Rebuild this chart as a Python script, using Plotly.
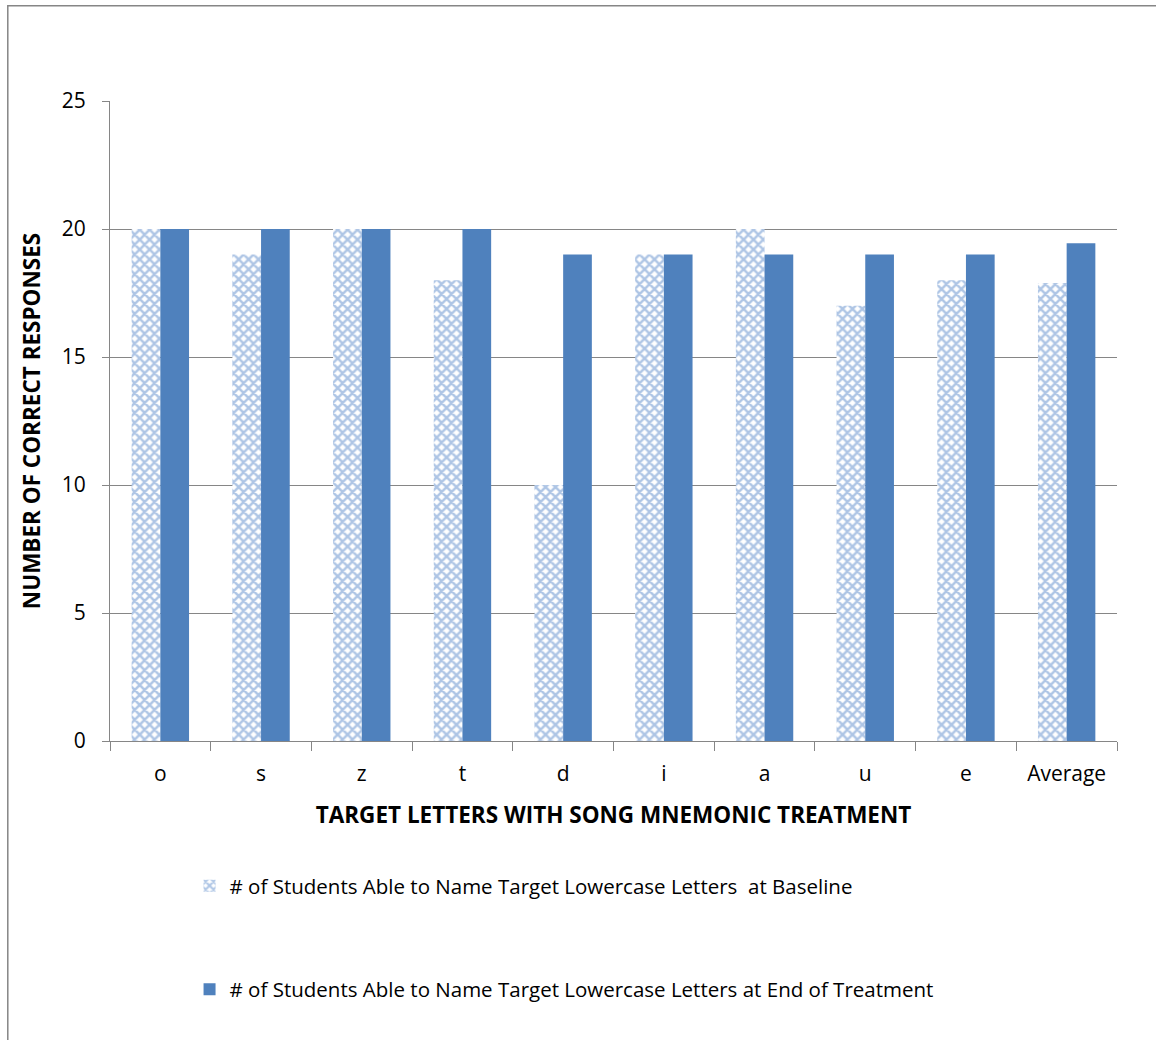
import plotly.graph_objects as go

letters = ["o", "s", "z", "t", "d", "i", "a", "u", "e", "Average"]
baseline = [20, 19, 20, 18, 10, 19, 20, 17, 18, 17.89]
end_of_treatment = [20, 20, 20, 20, 19, 19, 19, 19, 19, 19.44]

name_base = "# of Students Able to Name Target Lowercase Letters  at Baseline"
name_end = "# of Students Able to Name Target Lowercase Letters at End of Treatment"

FONT = "Open Sans"
BLUE = "#4F81BD"
GRID = "#868686"

fig = go.Figure()
fig.add_trace(go.Bar(
    x=letters, y=baseline, name=name_base, legendgroup="a",
    marker=dict(
        color="white",
        line=dict(width=0),
        pattern=dict(shape="x", fgcolor="#5E8CCB", bgcolor="white", size=7, solidity=0.6),
    ),
))
fig.add_trace(go.Bar(
    x=letters, y=end_of_treatment, name=name_end, legendgroup="b",
    marker=dict(color=BLUE, line=dict(width=0)),
))

fig.update_layout(
    width=1156, height=1040,
    margin=dict(l=110, r=39, t=101, b=299),
    paper_bgcolor="white", plot_bgcolor="white",
    barmode="group", bargap=0.43, bargroupgap=0,
    font=dict(family=FONT, color="black", size=20),
    showlegend=True,
    legend=dict(
        orientation="v", x=0.079, xanchor="left", y=-0.195, yanchor="top",
        traceorder="grouped", tracegroupgap=74,
        font=dict(size=20.5, family=FONT), itemwidth=30,
    ),
    shapes=[dict(
        type="rect", xref="paper", yref="paper",
        x0=-0.1015, x1=1.05, y0=-0.6, y1=1.149,
        line=dict(color=GRID, width=1.5), fillcolor="rgba(0,0,0,0)", layer="below",
    )],
)

fig.update_xaxes(
    type="category", tickson="boundaries", ticks="outside", ticklen=9,
    tickcolor=GRID, tickwidth=1.3,
    showline=True, linecolor=GRID, linewidth=1.3,
    tickfont=dict(size=21, family=FONT), ticklabelstandoff=14,
    title=dict(text="<b>TARGET LETTERS WITH SONG MNEMONIC TREATMENT</b>",
               font=dict(size=22.5, family=FONT), standoff=20),
)
fig.update_yaxes(
    range=[0, 25], tickvals=[0, 5, 10, 15, 20, 25], ticks="outside", ticklen=7,
    tickcolor=GRID, tickwidth=1.3,
    showline=True, linecolor=GRID, linewidth=1.3,
    showgrid=True, gridcolor=GRID, gridwidth=1.3, zeroline=False,
    tickfont=dict(size=21, family=FONT), ticklabelstandoff=12,
    title=dict(text="<b>NUMBER OF CORRECT RESPONSES</b>",
               font=dict(size=22.5, family=FONT), standoff=14),
)

fig.write_html("out.html")
